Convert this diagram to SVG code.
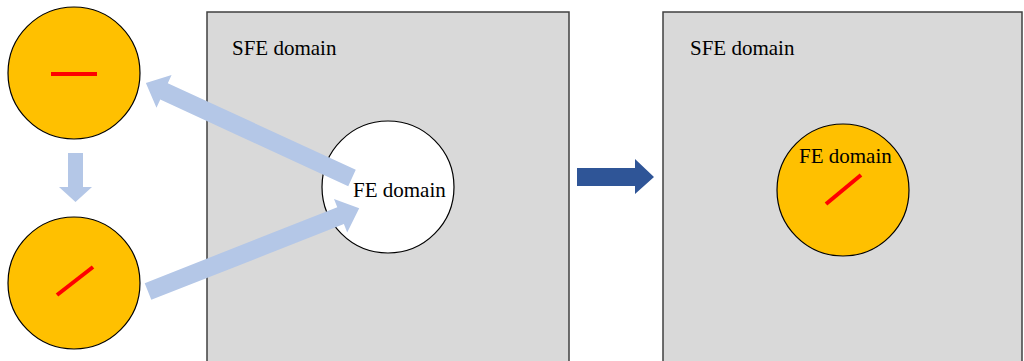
<svg xmlns="http://www.w3.org/2000/svg" width="1024" height="361" viewBox="0 0 1024 361">
<style>
.dom{fill:#D9D9D9;stroke:#404040;stroke-width:1.5}
.fe{stroke:#000;stroke-width:1.2}
.or{fill:#FFC000}
.wh{fill:#FFFFFF}
.red{stroke:#FF0000;stroke-width:4;fill:none}
.lb{fill:#B4C7E7}
.db{fill:#2F5597}
text{font-family:"Liberation Serif","Times New Roman",serif;font-size:21px;fill:#000}
</style>
<defs>
<polygon id="arr" points="0,-9 207,-9 207,-18 227,0 207,18 207,9 0,9"/>
</defs>
<rect width="1024" height="361" fill="#FFFFFF"/>
<g id="sfe-left">
<rect class="dom" x="207" y="12" width="362" height="360"/>
<text x="232" y="55">SFE domain</text>
</g>
<g id="sfe-right">
<rect class="dom" x="663" y="12" width="359" height="360"/>
<text x="690" y="55">SFE domain</text>
</g>
<g id="state-top">
<circle class="or fe" cx="74" cy="73" r="66"/>
<line class="red" x1="51" y1="74" x2="97" y2="74"/>
</g>
<g id="state-bottom">
<circle class="or fe" cx="74" cy="283" r="66"/>
<line class="red" x1="57" y1="295" x2="93" y2="267"/>
</g>
<g id="fe-left">
<circle class="wh fe" cx="388" cy="187" r="66"/>
</g>
<g id="fe-right">
<circle class="or fe" cx="843" cy="190" r="66"/>
<line class="red" x1="826" y1="204" x2="861" y2="175"/>
<text x="799" y="163">FE domain</text>
</g>
<g id="connectors">
<use href="#arr" class="lb" transform="translate(352,178) rotate(204.76)"/>
<use href="#arr" class="lb" transform="translate(148,291.5) rotate(-21.5)"/>
<polygon class="lb" points="68,153 83,153 83,187 92,187 75.5,202 59,187 68,187"/>
<polygon class="db" points="577,168 635,168 635,159 654,177 635,194 635,186 577,186"/>
</g>
<g id="fe-left-label">
<text x="353" y="197">FE domain</text>
</g>
</svg>
